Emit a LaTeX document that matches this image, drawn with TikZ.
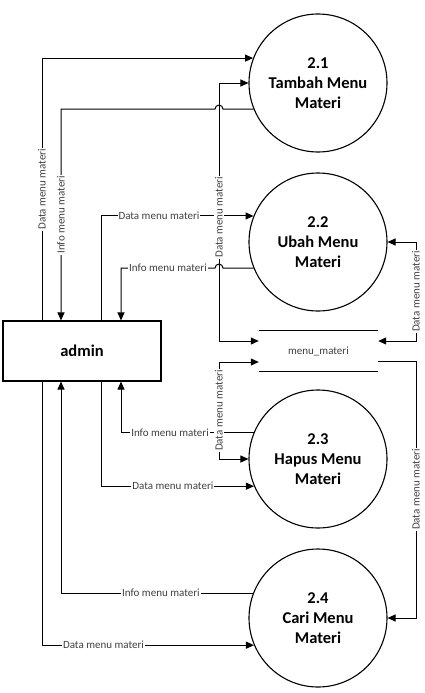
\documentclass[tikz,border=0pt]{standalone}
\usepackage{fontspec}
\setmainfont{Carlito}
\usetikzlibrary{arrows.meta,calc}
\begin{document}
\begin{tikzpicture}[x=1pt,y=-1pt,
  proc/.style={circle,draw,line width=1.1pt,minimum size=138pt,inner sep=0pt,align=center,font=\bfseries\fontsize{16.5}{20}\selectfont},
  ent/.style={rectangle,draw,line width=1.1pt,minimum width=158pt,minimum height=60pt,inner sep=0pt,font=\bfseries\fontsize{16.5}{20}\selectfont},
  flow/.style={line width=1pt,-{Triangle[length=8pt,width=7pt]}},
  bflow/.style={line width=1pt,{Triangle[length=8pt,width=7pt]}-{Triangle[length=8pt,width=7pt]}},
  lab/.style={fill=white,inner sep=1pt,font=\fontsize{11}{12}\selectfont,text=black!75}]
\useasboundingbox (0,0) rectangle (425,693);

\node[proc] (c1) at (318,83) {2.1\\Tambah Menu\\Materi};
\node[proc] (c2) at (318,242) {2.2\\Ubah Menu\\Materi};
\node[proc] (c3) at (318,459) {2.3\\Hapus Menu\\Materi};
\node[proc] (c4) at (318,618) {2.4\\Cari Menu\\Materi};
\node[ent] (admin) at (82,351) {admin};
\node[minimum width=119pt,minimum height=40pt,inner sep=0pt,font=\fontsize{11}{12}\selectfont,text=black!75] (store) at (318.5,351) {menu\_materi};
\draw[line width=1.1pt] (store.north west) -- (store.north east);
\draw[line width=1.1pt] (store.south west) -- (store.south east);

\coordinate (L) at (219,0);
\coordinate (R) at (416,0);
\coordinate (t1) at ([xshift=-40pt]admin.north);
\coordinate (t2) at ([xshift=-21pt]admin.north);
\coordinate (t3) at ([xshift=19pt]admin.north);
\coordinate (t4) at ([xshift=39pt]admin.north);
\coordinate (b1) at ([xshift=-40pt]admin.south);
\coordinate (b2) at ([xshift=-21pt]admin.south);
\coordinate (b3) at ([xshift=19pt]admin.south);
\coordinate (b4) at ([xshift=39pt]admin.south);
\coordinate (s1) at ([yshift=10pt]store.west);
\coordinate (s2) at ([yshift=-11pt]store.west);
\coordinate (s3) at ([yshift=10pt]store.east);
\coordinate (s4) at ([yshift=-10pt]store.east);
\coordinate (h1) at (c1.202 -| L);
\coordinate (h2) at (c2.202 -| L);

% admin <-> 2.1
\draw[flow] (t1) -- node[lab,rotate=90]{Data menu materi} (t1 |- c1.159) -- (c1.159);
\draw[flow] (c1.202) -- ([xshift=4pt]h1) arc[start angle=0,end angle=180,radius=4pt] -- (t2 |- c1.202) -- node[lab,rotate=90]{Info menu materi} (t2);
% admin <-> 2.2
\draw[flow] (t3) -- (t3 |- c2.158) -- node[lab,pos=0.38]{Data menu materi} (c2.158);
\draw[flow] (c2.202) -- ([xshift=4pt]h2) arc[start angle=0,end angle=180,radius=4pt] -- node[lab,pos=0.5]{Info menu materi} (t4 |- c2.202) -- (t4);
% admin <-> 2.3
\draw[flow] (c3.158) -- node[lab,pos=0.63]{Info menu materi} (b4 |- c3.158) -- (b4);
\draw[flow] (b3) -- (b3 |- c3.203) -- node[lab,pos=0.47]{Data menu materi} (c3.203);
% admin <-> 2.4
\draw[flow] (c4.159) -- node[lab,pos=0.48]{Info menu materi} (b2 |- c4.159) -- (b2);
\draw[flow] (b1) -- (b1 |- c4.203) -- node[lab,pos=0.29]{Data menu materi} (c4.203);

% store connections
\draw[bflow] (c1.west) -- (c1.west -| L) -- node[lab,rotate=90,pos=0.52]{Data menu materi} (L |- s1) -- (s1);
\draw[bflow] (s2) -- (s2 -| L) -- node[lab,rotate=90]{Data menu materi} (L |- c3.west) -- (c3.west);
\draw[bflow] (c2.east) -- (c2.east -| R) -- node[lab,rotate=90]{Data menu materi} (R |- s3) -- (s3);
\draw[flow] (s4) -- (s4 -| R) -- node[lab,rotate=90]{Data menu materi} (R |- c4.east) -- (c4.east);
\end{tikzpicture}
\end{document}
